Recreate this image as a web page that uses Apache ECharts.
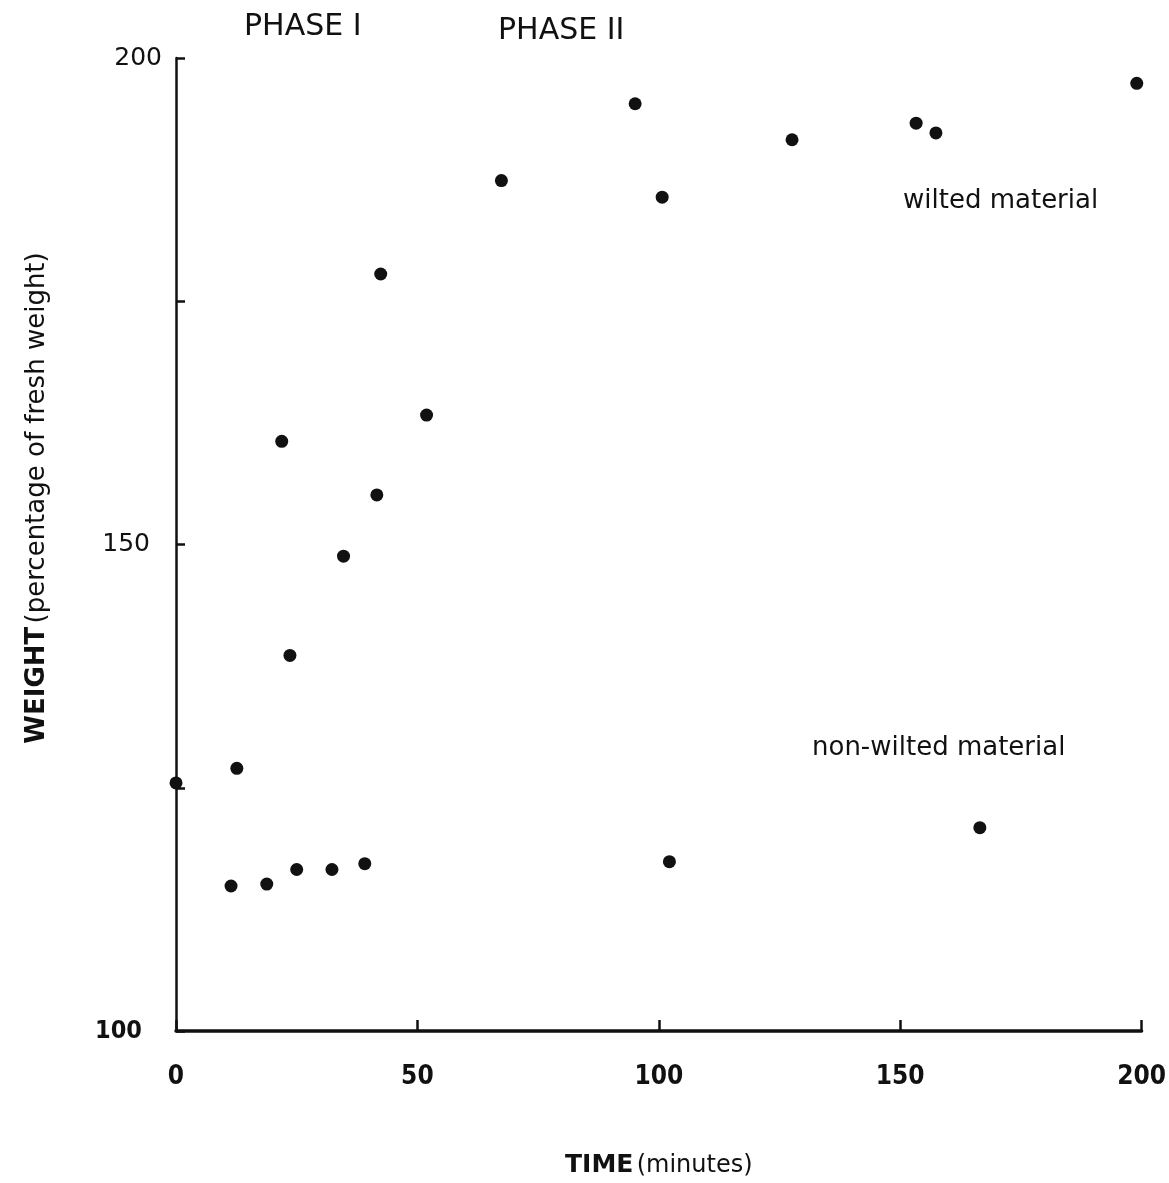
<!DOCTYPE html>
<html>
<head>
<meta charset="utf-8">
<title>Weight of wilted and non-wilted material</title>
<script src="https://cdn.jsdelivr.net/npm/echarts@6/dist/echarts.min.js"></script>
<style>
  html, body { margin: 0; padding: 0; background: #fff; }
  #chart { width: 1169px; height: 1183px; }
</style>
</head>
<body>
<div id="chart"></div>
<script>
// time (minutes), weight (% of fresh weight)
const wiltedTime = [0, 12.6, 21.9, 23.6, 34.7, 41.6, 42.4, 51.9, 67.4, 95.1, 100.7, 127.6, 153.3, 157.4, 199.0];
const wiltedWeight = [125.5, 127.0, 160.6, 138.6, 148.8, 155.1, 177.8, 163.3, 187.4, 195.3, 185.7, 191.6, 193.3, 192.3, 197.4];

const nonWiltedTime = [11.4, 18.8, 25.0, 32.3, 39.1, 102.2, 166.5];
const nonWiltedWeight = [114.9, 115.1, 116.6, 116.6, 117.2, 117.4, 120.9];

const xTicks = [0, 50, 100, 150, 200];
const yLabelled = [100, 150, 200];

const ink = "#111";
const font = "DejaVu Sans";

function pairs(xs, ys) {
  return xs.map((x, i) => [x, ys[i]]);
}

const chart = echarts.init(document.getElementById("chart"), null, { renderer: "canvas" });

chart.setOption({
  backgroundColor: "#fff",
  animation: false,
  grid: { left: 176, right: 26, top: 58, bottom: 150 },
  xAxis: {
    type: "value",
    min: xTicks[0],
    max: xTicks[xTicks.length - 1],
    interval: 50,
    axisLine: { lineStyle: { color: ink, width: 3.5 } },
    axisTick: { inside: true, length: 11, lineStyle: { color: ink, width: 2.5 } },
    splitLine: { show: false },
    axisLabel: {
      margin: 33,
      color: ink,
      fontFamily: "DejaVu Sans Condensed, " + font,
      fontWeight: "bold",
      fontSize: 26
    },
    name: "{b|TIME} {r|(minutes)}",
    nameLocation: "middle",
    nameGap: 122,
    nameTextStyle: {
      rich: {
        b: { fontFamily: font, fontWeight: "bold", fontSize: 25, color: ink },
        r: { fontFamily: font, fontSize: 24, color: ink }
      }
    }
  },
  yAxis: {
    type: "value",
    min: 100,
    max: 200,
    interval: 25,
    axisLine: { lineStyle: { color: ink, width: 2.5 } },
    axisTick: { inside: true, length: 9, lineStyle: { color: ink, width: 2.5 } },
    splitLine: { show: false },
    axisLabel: {
      margin: 14,
      formatter: function (v) {
        if (yLabelled.indexOf(v) < 0) return "";
        if (v === 100) return "{c|" + v + "}";
        if (v === 150) return "{b|" + v + "}";
        return "{a|" + v + "}";
      },
      rich: {
        a: { fontFamily: font, fontSize: 25, color: ink },
        b: { fontFamily: font, fontSize: 25, color: ink, padding: [0, 12, 0, 0] },
        c: { fontFamily: "DejaVu Sans Condensed, " + font, fontWeight: "bold", fontSize: 25, color: ink, padding: [0, 20, 0, 0] }
      }
    }
  },
  graphic: [
    {
      type: "text", x: 37, y: 498, rotation: Math.PI / 2,
      style: {
        text: "{b|WEIGHT} {r|(percentage of fresh weight)}",
        align: "center", verticalAlign: "middle",
        rich: {
          b: { fontFamily: font, fontWeight: "bold", fontSize: 26, fill: ink },
          r: { fontFamily: font, fontSize: 26, fill: ink }
        }
      }
    },
    { type: "text", x: 244, y: 27, style: { text: "PHASE I", font: "30px " + font, fill: ink, verticalAlign: "middle" } },
    { type: "text", x: 498, y: 31, style: { text: "PHASE II", font: "30px " + font, fill: ink, verticalAlign: "middle" } },
    { type: "text", x: 903, y: 201, style: { text: "wilted material", font: "26px " + font, fill: ink, verticalAlign: "middle" } },
    { type: "text", x: 812, y: 748, style: { text: "non-wilted material", font: "26px " + font, fill: ink, verticalAlign: "middle" } }
  ],
  series: [
    {
      name: "wilted material",
      type: "scatter",
      symbol: "circle",
      symbolSize: 13,
      itemStyle: { color: ink, opacity: 1 },
      emphasis: { disabled: true },
      data: pairs(wiltedTime, wiltedWeight)
    },
    {
      name: "non-wilted material",
      type: "scatter",
      symbol: "circle",
      symbolSize: 13,
      itemStyle: { color: ink, opacity: 1 },
      emphasis: { disabled: true },
      data: pairs(nonWiltedTime, nonWiltedWeight)
    }
  ]
});
</script>
</body>
</html>
